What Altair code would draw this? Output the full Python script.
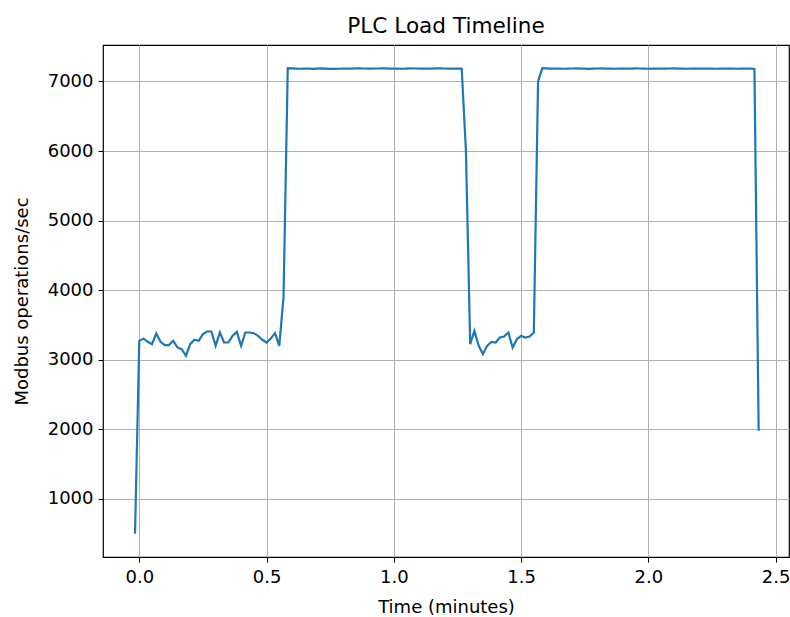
import altair as alt
import pandas as pd

# sample index (seconds); time in minutes = index / 60
seconds = list(range(-1, 147))

seg_start = [500]
seg_idle1 = [3272, 3306, 3258, 3224, 3377, 3258, 3210, 3210, 3272, 3177,
             3153, 3057, 3224, 3287, 3272, 3368, 3406, 3406, 3200, 3392,
             3248, 3248, 3344, 3401, 3200, 3392, 3392, 3382, 3344, 3287,
             3248, 3306, 3382, 3200]
seg_ramp1 = [3900]
seg_busy1 = [7190, 7188, 7185, 7183, 7186, 7184, 7182, 7185, 7187, 7184,
             7182, 7180, 7183, 7186, 7185, 7184, 7187, 7188, 7186, 7185,
             7184, 7186, 7188, 7187, 7185, 7186, 7184, 7183, 7185, 7187,
             7186, 7185, 7184, 7186, 7185, 7187, 7188, 7186, 7185, 7184,
             7186, 7185]
seg_drop1 = [6000]
seg_idle2 = [3224, 3415, 3200, 3081, 3200, 3258, 3248, 3320, 3334, 3392,
             3177, 3296, 3344, 3320, 3334, 3392]
seg_ramp2 = [7000]
seg_busy2 = [7190, 7187, 7185, 7186, 7184, 7183, 7185, 7186, 7188, 7185,
             7184, 7182, 7185, 7186, 7187, 7185, 7184, 7183, 7185, 7186,
             7184, 7185, 7187, 7186, 7184, 7183, 7185, 7186, 7185, 7184,
             7186, 7187, 7185, 7184, 7183, 7185, 7186, 7185, 7184, 7186,
             7185, 7183, 7184, 7186, 7185, 7184, 7183, 7185, 7186, 7184,
             7180]
seg_end = [1980]

ops = (seg_start + seg_idle1 + seg_ramp1 + seg_busy1 + seg_drop1 +
       seg_idle2 + seg_ramp2 + seg_busy2 + seg_end)

n = min(len(seconds), len(ops))
df = pd.DataFrame({
    "t": [s / 60 for s in seconds[:n]],
    "ops": ops[:n],
})

x_ticks = [0.0, 0.5, 1.0, 1.5, 2.0, 2.5]
y_ticks = [1000, 2000, 3000, 4000, 5000, 6000, 7000]

FONT = "DejaVu Sans"

chart = alt.Chart(df).mark_line(color="#1f77b4", strokeWidth=2.2).encode(
    x=alt.X("t:Q",
            scale=alt.Scale(domain=[-0.1425, 2.5525], nice=False, zero=False),
            axis=alt.Axis(title="Time (minutes)", values=x_ticks, format=".1f")),
    y=alt.Y("ops:Q",
            scale=alt.Scale(domain=[165, 7524], nice=False, zero=False),
            axis=alt.Axis(title="Modbus operations/sec", values=y_ticks, format="d")),
).properties(
    width=686,
    height=512,
    title=alt.TitleParams("PLC Load Timeline", fontSize=21.6, font=FONT,
                          fontWeight="normal", color="black", offset=7),
    autosize=alt.AutoSizeParams(type="none"),
    padding={"left": 103, "top": 45, "right": 1, "bottom": 60},
).configure_view(
    stroke="black", strokeWidth=1.2
).configure_axis(
    grid=True, gridColor="#b0b0b0", gridWidth=1,
    domain=False,
    tickColor="black", tickSize=5, tickWidth=1,
    labelFont=FONT, labelFontSize=18, labelColor="black",
    titleFont=FONT, titleFontSize=18, titleColor="black", titleFontWeight="normal",
).configure_axisX(
    labelPadding=6, titlePadding=12
).configure_axisY(
    labelPadding=5, titlePadding=16
)

chart.save("out.html", embed_options={"renderer": "svg", "actions": False})
